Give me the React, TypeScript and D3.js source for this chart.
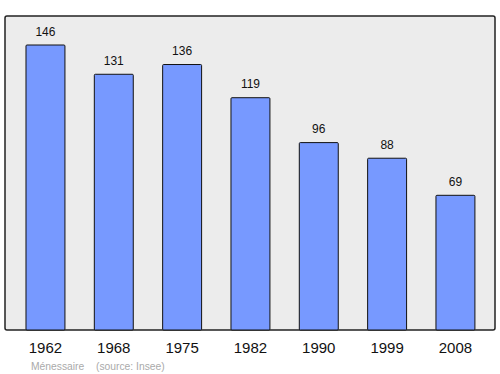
import React from "react";
import * as d3 from "d3";

const years = ["1962", "1968", "1975", "1982", "1990", "1999", "2008"];
const population = [146, 131, 136, 119, 96, 88, 69];
const placeName = "Ménessaire";
const sourceText = "(source: Insee)";

export default function App() {
  const W = 500, H = 374;
  const frame = { left: 5, top: 16, right: 495, bottom: 330 };
  const x = d3.scaleBand<string>().domain(years).range([11.3, 489.6]).paddingInner(0.43).paddingOuter(0.215);
  const y = d3.scaleLinear().domain([0, 146]).range([frame.bottom, 45]);
  const font = "'Liberation Sans', Arial, sans-serif";
  return (
    <svg width={W} height={H} style={{ position: "absolute", left: 0, top: 0 }} fontFamily={font}>
      <rect x={frame.left} y={frame.top} width={frame.right - frame.left} height={frame.bottom - frame.top}
        fill="#ececec" stroke="#222" strokeWidth={1.5} rx={2} />
      {years.map((yr, i) => {
        const v = population[i];
        const bx = x(yr)!;
        const bw = x.bandwidth();
        return (
          <g key={yr}>
            <rect x={bx} y={y(v)} width={bw} height={frame.bottom - y(v)} fill="#7799ff" stroke="#111" strokeWidth={1} rx={1} />
            <text x={bx + bw / 2} y={y(v) - 9.5} textAnchor="middle" fontSize={12} fill="#111">{v}</text>
            <text x={bx + bw / 2} y={353} textAnchor="middle" fontSize={15} fill="#111">{yr}</text>
          </g>
        );
      })}
      <text x={31} y={369.5} fontSize={10.3} fill="#aaa">{placeName}</text>
      <text x={96} y={369.5} fontSize={10.3} fill="#aaa">{sourceText}</text>
    </svg>
  );
}
